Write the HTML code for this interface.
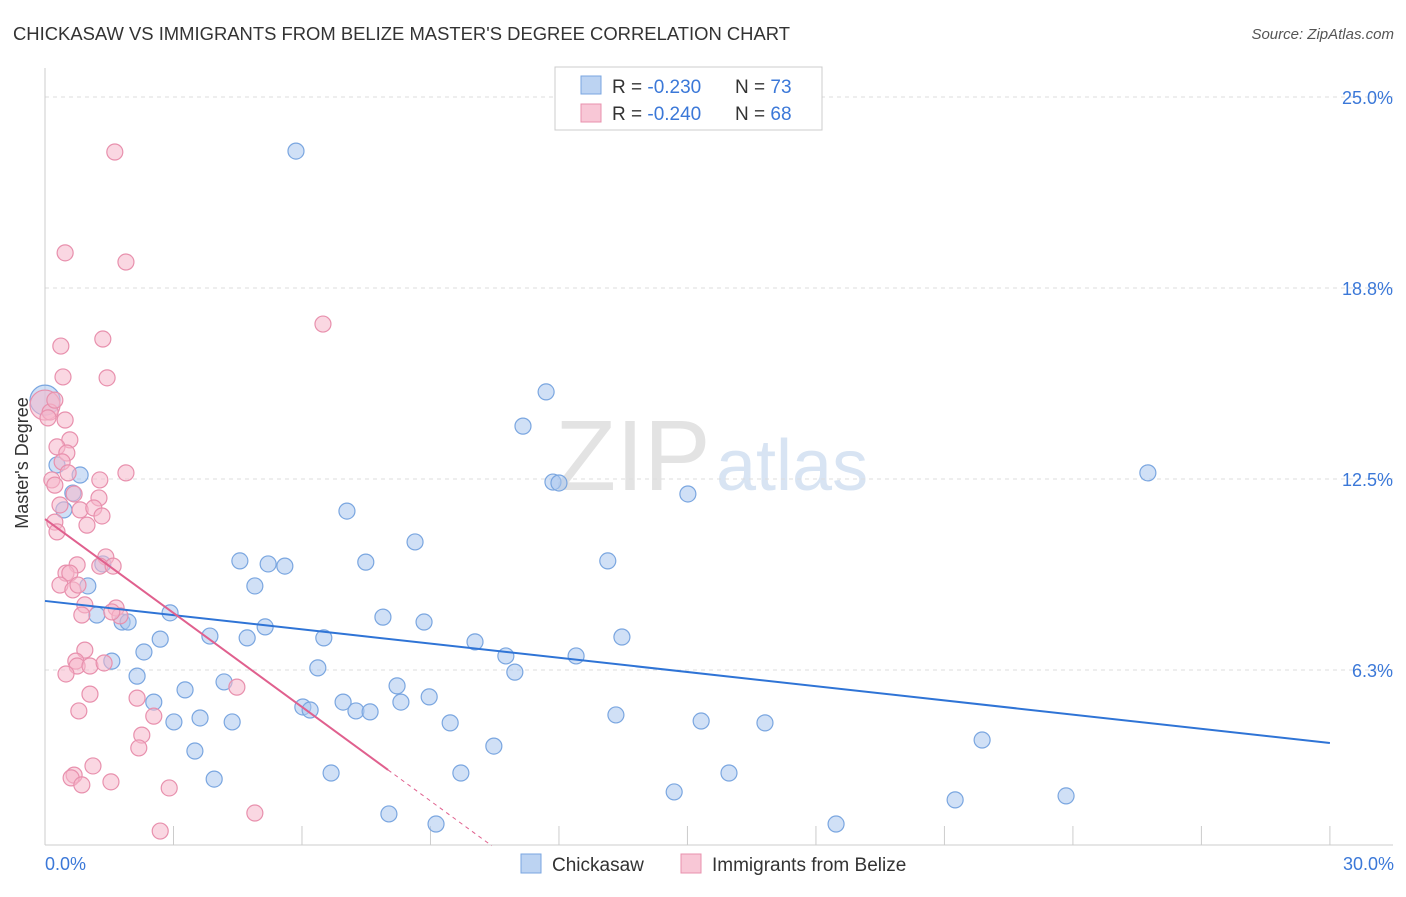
<!DOCTYPE html>
<html><head><meta charset="utf-8">
<style>
body{margin:0;background:#fff;font-family:"Liberation Sans",sans-serif;}
svg text{font-family:"Liberation Sans",sans-serif;}
</style></head>
<body>
<svg width="1406" height="892" xmlns="http://www.w3.org/2000/svg">
<text x="13" y="40" font-size="18" fill="#333" textLength="777" lengthAdjust="spacingAndGlyphs">CHICKASAW VS IMMIGRANTS FROM BELIZE MASTER'S DEGREE CORRELATION CHART</text>
<text x="1394" y="39" font-size="15" fill="#555" text-anchor="end" font-style="italic">Source: ZipAtlas.com</text>
<g>
<text x="555" y="490" font-size="100" font-family="Liberation Serif" fill="#e3e3e3">ZIP</text>
<text x="716" y="490" font-size="72" fill="#d8e4f3">atlas</text>
</g>
<g id="grid"></g>
<g id="axes"></g>
<g id="pts"></g>
<g id="trend"></g>
<text x="20" y="455" font-size="18" fill="#333" text-anchor="middle" transform="rotate(-90 28 455)">Master's Degree</text>
<text x="45" y="870" font-size="18" fill="#3b78d8">0.0%</text>
<text x="1394" y="870" font-size="18" fill="#3b78d8" text-anchor="end">30.0%</text>
<g>
<rect x="555" y="67" width="267" height="63" fill="#fff" stroke="#ccc"/>
<rect x="581" y="76" width="20" height="18" fill="#bcd3f2" stroke="#7aa6e0"/>
<rect x="581" y="104" width="20" height="18" fill="#f8c7d6" stroke="#e890ad"/>
<text x="612" y="93" font-size="19" fill="#333">R = <tspan fill="#3b78d8">-0.230</tspan><tspan x="735">N = </tspan><tspan fill="#3b78d8">73</tspan></text>
<text x="612" y="120" font-size="19" fill="#333">R = <tspan fill="#3b78d8">-0.240</tspan><tspan x="735">N = </tspan><tspan fill="#3b78d8">68</tspan></text>
</g>
<g>
<rect x="521" y="854" width="20" height="19" fill="#bcd3f2" stroke="#7aa6e0"/>
<text x="552" y="871" font-size="19" fill="#333">Chickasaw</text>
<rect x="681" y="854" width="20" height="19" fill="#f8c7d6" stroke="#e890ad"/>
<text x="712" y="871" font-size="19" fill="#333">Immigrants from Belize</text>
</g>
</svg>
<script>
const yTicks=[25.0,18.8,12.5,6.3];
const yTickVals=[25,18.75,12.5,6.25];
const xTicks=[0,3,6,9,12,15,18,21,24,27,30];
const blueX=[5.86,11.70,11.16,11.86,12.00,15.01,25.75,7.05,8.64,4.55,5.21,5.60,7.49,13.14,4.90,7.89,8.85,5.14,3.85,4.72,6.51,10.04,10.76,12.40,13.47,10.97,6.37,2.92,1.80,1.94,2.69,2.31,2.15,1.56,1.21,1.00,1.35,0.82,0.28,0.65,0.44,0,3.27,4.18,2.54,3.62,3.01,4.37,6.02,6.19,6.96,7.26,7.59,8.22,8.31,8.97,9.46,13.33,15.32,16.81,21.88,10.48,3.50,3.95,6.68,9.71,15.97,14.69,21.25,23.84,8.03,9.13,18.47];
const blueY=[23.23,15.35,14.23,12.40,12.37,12.01,12.70,11.45,10.44,9.82,9.72,9.65,9.78,9.82,9.00,7.98,7.82,7.66,7.36,7.30,7.30,7.17,6.71,6.71,7.33,6.18,6.32,8.12,7.82,7.82,7.26,6.84,6.05,6.54,8.05,9.00,9.72,12.63,12.96,12.04,11.49,15.08,5.60,5.86,5.20,4.68,4.55,4.55,5.04,4.94,5.20,4.91,4.88,5.73,5.20,5.37,4.52,4.78,4.58,4.52,3.96,3.76,3.60,2.68,2.88,2.88,2.88,2.26,2.00,2.13,1.54,1.21,1.21];
const pinkX=[1.63,0.47,1.89,6.49,0.37,1.35,0.42,1.45,0,0.12,0.23,0.07,0.58,0.28,0.51,0.40,1.89,0.16,0.23,0.54,1.28,0.68,1.26,0.35,0.82,1.14,1.33,0.23,0.98,0.28,1.42,0.75,1.28,1.59,0.49,0.58,0.35,0.65,0.93,1.66,1.75,0.86,0.93,0.72,0.75,1.05,1.38,0.49,1.05,2.15,4.48,0.79,2.54,2.26,2.19,1.12,0.68,0.61,0.86,1.54,2.90,4.90,2.69,0.47,1.56,0.77];
const pinkY=[23.20,19.90,19.60,17.57,16.85,17.08,15.84,15.81,14.92,14.69,15.08,14.50,13.78,13.55,13.35,13.06,12.70,12.47,12.30,12.70,12.47,12.01,11.88,11.65,11.49,11.55,11.29,11.09,10.99,10.77,9.95,9.69,9.65,9.65,9.42,9.42,9.03,8.87,8.38,8.28,8.02,8.05,6.90,6.54,6.38,6.38,6.48,6.12,5.46,5.33,5.69,4.91,4.74,4.12,3.70,3.11,2.81,2.72,2.49,2.59,2.39,1.57,0.98,14.43,8.15,9.03];
const blueTrend=[8.51,3.86];
const pinkTrend=[11.19,2.98];
const pinkTrendEndX=8.01;
const NS='http://www.w3.org/2000/svg';
function sx(v){return 45+v*42.83;}
function sy(v){return 861-v*30.56;}
function mk(tag,attrs,parent){const e=document.createElementNS(NS,tag);for(const k in attrs)e.setAttribute(k,attrs[k]);document.getElementById(parent).appendChild(e);return e;}
yTickVals.forEach((v,i)=>{
  const l=mk('line',{x1:45,x2:1393,y1:sy(v),y2:sy(v),stroke:'#ddd','stroke-dasharray':'4,4'},'grid');
  
  
  const t=mk('text',{x:1393,y:sy(v)+7,'font-size':18,fill:'#3b78d8','text-anchor':'end'},'grid');
  t.textContent=yTicks[i].toFixed(1)+'%';
  
  
});
const ya=mk('line',{x1:45,x2:45,y1:68,y2:845,stroke:'#ccc'},'axes');


const xa=mk('line',{x1:45,x2:1393,y1:845,y2:845,stroke:'#ccc'},'axes');


xTicks.forEach(v=>{
  const t=mk('line',{x1:sx(v),x2:sx(v),y1:826,y2:845,stroke:'#ccc'},'axes');
  
  
});
function pts(xs,ys,fill,stroke,name){
  xs.forEach((x,i)=>{
    const big=(x===0);
    const c=mk('circle',{cx:sx(x),cy:sy(ys[i]),r:big?15:8,fill:fill,'fill-opacity':0.55,stroke:stroke,'stroke-width':1.2},'pts');
    
    
  });
}
pts(blueX,blueY,'#a9c6ee','#7aa6e0','chickasaw-point');
pts(pinkX,pinkY,'#f6b6cb','#e890ad','belize-point');
const bl=mk('line',{x1:sx(0),y1:sy(blueTrend[0]),x2:sx(30),y2:sy(blueTrend[1]),stroke:'#2f74d6','stroke-width':2},'trend');


const slope=(pinkTrend[1]-pinkTrend[0])/pinkTrendEndX;
const pl=mk('line',{x1:sx(0),y1:sy(pinkTrend[0]),x2:sx(pinkTrendEndX),y2:sy(pinkTrend[1]),stroke:'#e0608e','stroke-width':2},'trend');


const xEnd=(0.5-pinkTrend[0])/slope;
const pd=mk('line',{x1:sx(pinkTrendEndX),y1:sy(pinkTrend[1]),x2:sx(xEnd),y2:sy(pinkTrend[0]+slope*xEnd),stroke:'#e0608e','stroke-width':1,'stroke-dasharray':'4,4'},'trend');


</script>
</body></html>
